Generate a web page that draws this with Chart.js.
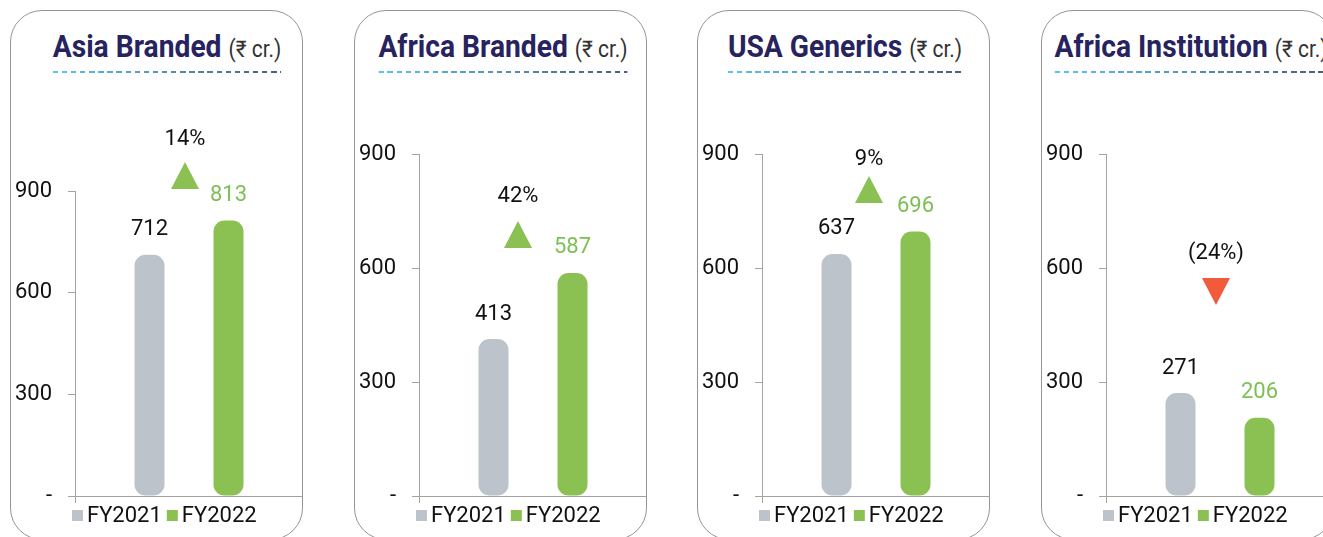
<!DOCTYPE html>
<html>
<head>
<meta charset="utf-8">
<script src="https://cdn.jsdelivr.net/npm/chart.js@4.4.1/dist/chart.umd.min.js"></script>
<style>
  html, body { margin:0; padding:0; background:#fff; }
  body { width:1323px; height:537px; overflow:hidden; position:relative; font-family: Roboto, "Noto Sans", sans-serif; }
  .card { position:absolute; top:10px; width:293px; height:530px; box-sizing:border-box;
          border:1.5px solid #959595; border-radius:32px; }
  canvas.cv { position:absolute; top:0; }
  .tw { position:absolute; top:31px; width:0; height:0; }
  .tt { position:absolute; left:0; top:0; display:inline-block; white-space:nowrap;
        transform: translateX(-50%) scaleX(0.91); transform-origin: 50% 0;
        font: 700 31px/31px Roboto, sans-serif; color:#27235f; }
  .tt .unit { font-weight:400; font-size:23px; color:#333; }
  .tt .ul { position:absolute; left:0; right:0; top:40px; height:2px;
            background: linear-gradient(to right, #5cc4f0, #4d5b82);
            -webkit-mask-image: repeating-linear-gradient(to right, #000 0 6px, transparent 6px 10px);
            mask-image: repeating-linear-gradient(to right, #000 0 6px, transparent 6px 10px); }
</style>
</head>
<body>
<script>
// ---------------- data ----------------
const categories   = ['Revenue'];
const panelTitles  = ['Asia Branded', 'Africa Branded', 'USA Generics', 'Africa Institution'];
const unitLabel    = '(₹ cr.)';
const seriesNames  = ['FY2021', 'FY2022'];
const fy2021Values = [712, 413, 637, 271];
const fy2022Values = [813, 587, 696, 206];
const growthLabels = ['14%', '42%', '9%', '(24%)'];
const growthUp     = [true, true, true, false];
const yTickValues  = [0, 300, 600, 900];

// ---------------- layout / style (page pixels) ----------------
const panelLayout = [
  { card: 10,   titleC: 166.5, top: 191, markX: 185,  triTop: 162, pctY: 138 },
  { card: 354,  titleC: 502.5, top: 154, markX: 518,  triTop: 221, pctY: 195 },
  { card: 697,  titleC: 844.5, top: 154, markX: 869,  triTop: 176, pctY: 158 },
  { card: 1041, titleC: 1191,  top: 154, markX: 1216, triTop: 278, pctY: 252 }
];
const barColors   = ['#bdc3ca', '#8bc153'];
const labelColors = ['#111111', '#7dbf55'];
const upColor = '#8bc153', downColor = '#f15a3b';
const axisColor = '#a3a3a3';
const FONT = 'Roboto, "Noto Sans", sans-serif';

const valueLabelPlugin = {
  id: 'valueLabels',
  afterDatasetsDraw(chart) {
    const ctx = chart.ctx;
    ctx.save();
    ctx.font = '22px ' + FONT;
    ctx.textAlign = 'center';
    ctx.textBaseline = 'middle';
    chart.data.datasets.forEach((ds, i) => {
      const meta = chart.getDatasetMeta(i);
      meta.data.forEach((el, j) => {
        ctx.fillStyle = labelColors[i];
        ctx.fillText(String(ds.data[j]), el.x, el.y - 25);
      });
    });
    ctx.restore();
  }
};

const growthPlugin = {
  id: 'growthMark',
  afterDraw(chart, args, opts) {
    const ctx = chart.ctx;
    const L = opts.layout;
    const cx = L.markX - L.card;
    const w = 28, h = 27;
    ctx.save();
    ctx.beginPath();
    if (opts.up) {
      ctx.moveTo(cx, L.triTop);
      ctx.lineTo(cx + w / 2, L.triTop + h);
      ctx.lineTo(cx - w / 2, L.triTop + h);
    } else {
      ctx.moveTo(cx - w / 2, L.triTop);
      ctx.lineTo(cx + w / 2, L.triTop);
      ctx.lineTo(cx, L.triTop + h);
    }
    ctx.closePath();
    ctx.fillStyle = opts.up ? upColor : downColor;
    ctx.fill();
    ctx.font = '22px ' + FONT;
    ctx.textAlign = 'center';
    ctx.textBaseline = 'middle';
    ctx.fillStyle = '#111';
    ctx.fillText(opts.text, cx, L.pctY + 1);
    ctx.restore();
  }
};

const legendPlugin = {
  id: 'miniLegend',
  afterDraw(chart) {
    const ctx = chart.ctx;
    ctx.save();
    ctx.font = '22px ' + FONT;
    ctx.textBaseline = 'middle';
    ctx.textAlign = 'left';
    let x = chart.chartArea.left - 3;
    const y = 516;
    chart.data.datasets.forEach((ds, i) => {
      ctx.fillStyle = ds.backgroundColor;
      ctx.fillRect(x, y - 6, 11, 11);
      x += 11 + 4;
      ctx.fillStyle = '#111';
      ctx.fillText(ds.label, x, y);
      x += ctx.measureText(ds.label).width + 5;
    });
    ctx.restore();
  }
};

panelTitles.forEach((title, p) => {
  const L = panelLayout[p];
  const card = document.createElement('div');
  card.className = 'card';
  card.style.left = L.card + 'px';
  document.body.appendChild(card);

  const tw = document.createElement('div');
  tw.className = 'tw';
  tw.style.left = L.titleC + 'px';
  tw.innerHTML = '<span class="tt">' + title + ' <span class="unit">' + unitLabel + '</span><span class="ul"></span></span>';
  document.body.appendChild(tw);

  const cv = document.createElement('canvas');
  cv.className = 'cv';
  cv.width = 293; cv.height = 537;
  cv.style.left = L.card + 'px';
  cv.style.width = '293px'; cv.style.height = '537px';
  document.body.appendChild(cv);

  new Chart(cv, {
    type: 'bar',
    data: {
      labels: categories,
      datasets: [
        { label: seriesNames[0], data: [fy2021Values[p]], backgroundColor: barColors[0] },
        { label: seriesNames[1], data: [fy2022Values[p]], backgroundColor: barColors[1] }
      ]
    },
    options: {
      responsive: false,
      animation: false,
      devicePixelRatio: 1,
      layout: { padding: { top: L.top, right: 0, bottom: 0, left: 0 } },
      datasets: { bar: { categoryPercentage: 0.693, barPercentage: 0.38, borderRadius: 11, borderSkipped: false } },
      plugins: {
        legend: { display: false },
        tooltip: { enabled: false },
        title: { display: false },
        growthMark: { layout: L, up: growthUp[p], text: growthLabels[p] }
      },
      scales: {
        x: {
          offset: true,
          ticks: { display: false },
          grid: { drawOnChartArea: false, drawTicks: true, tickLength: 7, color: axisColor },
          border: { color: axisColor, width: 1 },
          afterFit(s) { s.height = 41; }
        },
        y: {
          min: 0, max: 900,
          afterBuildTicks(s) { s.ticks = yTickValues.map(v => ({ value: v })); },
          ticks: {
            font: { family: FONT, size: 22 }, color: '#111', padding: 16,
            callback: v => (v === 0 ? '-' : String(v))
          },
          grid: { drawOnChartArea: false, drawTicks: true, tickLength: 7, color: axisColor },
          border: { color: axisColor, width: 1 },
          afterFit(s) { s.width = 65; }
        }
      }
    },
    plugins: [valueLabelPlugin, growthPlugin, legendPlugin]
  });
});
</script>
</body>
</html>
